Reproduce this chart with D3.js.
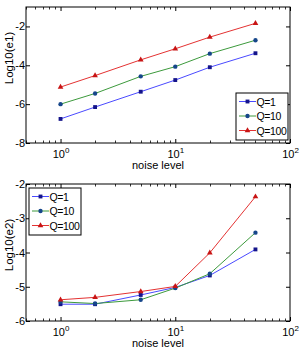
<!DOCTYPE html>
<html>
<head>
<meta charset="utf-8">
<script src="https://cdn.jsdelivr.net/npm/d3@7"></script>
<style>
  body { margin: 0; background: #fff; }
  svg { font-family: "Liberation Sans", Arial, sans-serif; }
  .domain { stroke: #000; }
</style>
</head>
<body>
<svg width="300" height="348"></svg>
<script>
// noise levels on the x axis
var noise = [1, 2, 5, 10, 20, 50];
var seriesNames = ["Q=1", "Q=10", "Q=100"];

// log10(e1), top panel
var e1Q1 = [-6.76, -6.15, -5.36, -4.76, -4.10, -3.38];
var e1Q10 = [-6.00, -5.45, -4.57, -4.07, -3.40, -2.71];
var e1Q100 = [-5.12, -4.53, -3.72, -3.15, -2.55, -1.84];

// log10(e2), bottom panel
var e2Q1 = [-5.51, -5.51, -5.24, -5.02, -4.67, -3.91];
var e2Q10 = [-5.44, -5.49, -5.38, -5.04, -4.62, -3.42];
var e2Q100 = [-5.38, -5.31, -5.14, -4.99, -4.01, -2.37];

var e1Ticks = [-8, -6, -4, -2];
var e2Ticks = [-6, -5, -4, -3, -2];
var xTicks = [1, 10, 100];

var lineColors = ["#4a4aff", "#3c9a3c", "#e43232"];
var markColors = ["#14148a", "#16468a", "#c81414"];
var markShapes = [d3.symbolSquare, d3.symbolCircle, d3.symbolTriangle];
var markSizes = [15, 15, 14];

var svg = d3.select("svg");

function panel(opts) {
  var x = d3.scaleLog().domain([0.5, 100]).range([26, 290]);
  var y = d3.scaleLinear().domain(opts.yDomain).range([opts.bottom, opts.top]);
  var g = svg.append("g");

  // box
  g.append("rect")
    .attr("x", 26).attr("y", opts.top)
    .attr("width", 264).attr("height", opts.bottom - opts.top)
    .attr("fill", "none").attr("stroke", "#000").attr("stroke-width", 1);

  // minor log ticks, top and bottom
  var minor = [];
  [0.1, 1, 10].forEach(function(d) {
    for (var k = 2; k <= 9; k++) {
      var v = d * k;
      if (v >= 0.5 && v <= 100) minor.push(v);
    }
  });
  g.selectAll(".minor")
    .data(minor)
    .enter().append("path")
    .attr("d", function(d) {
      var px = Math.round(x(d)) + 0.5;
      return "M" + px + "," + opts.bottom + "v-2.5M" + px + "," + opts.top + "v2.5";
    })
    .attr("stroke", "#000").attr("stroke-width", 0.8);

  var xAxis = d3.axisBottom(x).tickValues(xTicks).tickSize(-4).tickFormat("");
  var xg = g.append("g").attr("transform", "translate(0," + opts.bottom + ")").call(xAxis);
  xg.select(".domain").remove();
  var lab = xg.selectAll(".tick").append("text")
    .attr("fill", "#000").attr("font-size", 11).attr("text-anchor", "middle")
    .attr("y", 15);
  lab.append("tspan").text("10");
  lab.append("tspan").attr("dy", -5).attr("font-size", 8)
    .text(function(d) { return Math.round(Math.log10(d)); });

  g.append("g").attr("transform", "translate(0," + opts.top + ")")
    .call(d3.axisTop(x).tickValues(xTicks).tickSize(-4).tickFormat(""))
    .select(".domain").remove();

  var yg = g.append("g").attr("transform", "translate(26,0)")
    .call(d3.axisLeft(y).tickValues(opts.yTicks).tickSize(-4).tickPadding(6)
      .tickFormat(function(d) { return "-" + Math.abs(d); }));
  yg.select(".domain").remove();
  yg.selectAll("text").attr("font-size", 11).attr("fill", "#000").attr("x", -1);

  g.append("g").attr("transform", "translate(290,0)")
    .call(d3.axisRight(y).tickValues(opts.yTicks).tickSize(-4).tickFormat(""))
    .select(".domain").remove();

  // axis titles
  g.append("text")
    .attr("x", 158).attr("y", opts.bottom + 26)
    .attr("text-anchor", "middle").attr("font-size", 11)
    .text("noise level");
  g.append("text")
    .attr("transform", "translate(13," + opts.labelY + ") rotate(-90)")
    .attr("text-anchor", "middle").attr("font-size", 11.5)
    .text(opts.yTitle);

  var line = d3.line()
    .x(function(d, i) { return x(noise[i]); })
    .y(function(d) { return y(d); });

  opts.series.forEach(function(s, i) {
    g.append("path").datum(s)
      .attr("d", line)
      .attr("fill", "none").attr("stroke", lineColors[i]).attr("stroke-width", 1);
    g.selectAll(".m" + i)
      .data(s)
      .enter().append("path")
      .attr("transform", function(d, j) {
        return "translate(" + x(noise[j]) + "," + y(d) + ")";
      })
      .attr("d", d3.symbol().type(markShapes[i]).size(markSizes[i]))
      .attr("fill", markColors[i]);
  });

  // legend
  var lg = g.append("g").attr("transform", "translate(" + opts.legX + "," + opts.legY + ")");
  lg.append("rect")
    .attr("width", opts.legW).attr("height", 47)
    .attr("fill", "#fff").attr("stroke", "#000").attr("stroke-width", 1);
  seriesNames.forEach(function(name, i) {
    var ly = 8.5 + i * 14.5;
    lg.append("line")
      .attr("x1", 3).attr("x2", 20).attr("y1", ly).attr("y2", ly)
      .attr("stroke", lineColors[i]);
    lg.append("path")
      .attr("transform", "translate(11.5," + ly + ")")
      .attr("d", d3.symbol().type(markShapes[i]).size(markSizes[i]))
      .attr("fill", markColors[i]);
    lg.append("text")
      .attr("x", 20.5).attr("y", ly + 4)
      .attr("font-size", 10.5).attr("letter-spacing", -0.4)
      .text(name);
  });
}

panel({
  top: 7, bottom: 143, yDomain: [-8, -1], yTicks: e1Ticks,
  yTitle: "Log10(e1)", labelY: 58,
  series: [e1Q1, e1Q10, e1Q100],
  legX: 236, legY: 93, legW: 52
});

panel({
  top: 184, bottom: 321, yDomain: [-6, -2], yTicks: e2Ticks,
  yTitle: "Log10(e2)", labelY: 245,
  series: [e2Q1, e2Q10, e2Q100],
  legX: 29, legY: 188, legW: 52
});
</script>
</body>
</html>
